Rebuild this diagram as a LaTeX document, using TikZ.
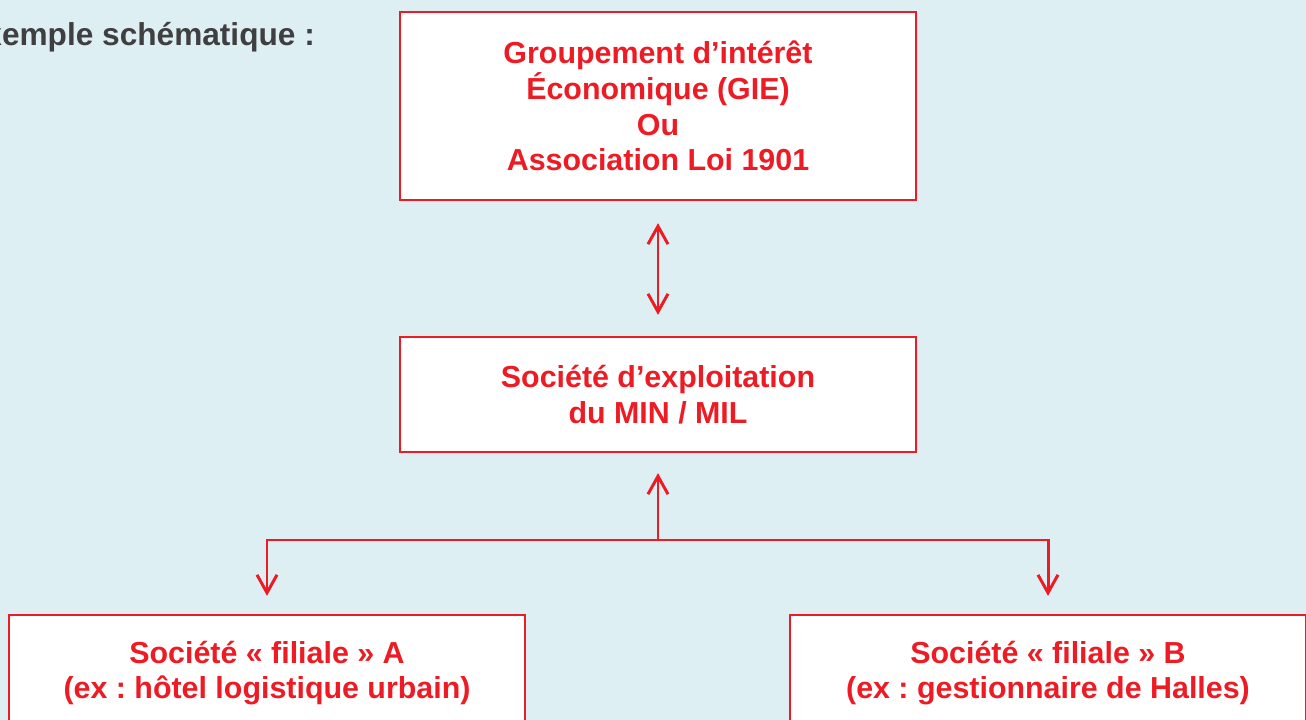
\documentclass[tikz,border=0pt]{standalone}
\usepackage{fontspec}
\setmainfont{Liberation Sans}
\usepackage{xcolor}
\usetikzlibrary{arrows.meta}

\definecolor{rouge}{HTML}{ED1C24}
\definecolor{fond}{HTML}{DDEFF3}
\definecolor{titre}{HTML}{3F3F41}

\tikzset{
    entite/.style={draw=rouge, line width=1.3pt, fill=white, text=rouge, align=center,
        font=\bfseries\fontsize{17.3}{20.4}\selectfont, minimum width=10.32cm, inner sep=0pt},
    lien/.style={draw=rouge, line width=1.7pt,
        >={Straight Barb[length=3.6mm, width=4mm, line width=1.7pt]}}
}

\begin{document}
\frenchspacing
\begin{tikzpicture}[x=0.02cm, y=-0.02cm]
    % Frame and background
    \useasboundingbox (0,0) rectangle (1306,720);
    \fill[fond] (0,0) rectangle (1306,720);
    \clip (0,0) rectangle (1306,720);

    % Title (cut at the left edge)
    \node[anchor=base west, inner sep=0pt, text=titre, font=\bfseries\fontsize{18}{21}\selectfont] (titre) at (-37,45) {Exemple schématique :};

    % Boxes
    \node[entite, minimum height=3.76cm] (gie) at (658,106)
        {Groupement d’intérêt\\Économique (GIE)\\Ou\\Association Loi 1901};
    \node[entite, minimum height=2.3cm] (expl) at (658,394.5)
        {Société d’exploitation\\du MIN / MIL};
    \node[entite, minimum height=2.32cm] (filA) at (267,673)
        {Société « filiale » A\\(ex : hôtel logistique urbain)};
    \node[entite, minimum height=2.32cm] (filB) at (1048,673)
        {Société « filiale » B\\(ex : gestionnaire de Halles)};

    % Links
    \coordinate (branche) at (658,540);
    \draw[lien, <->, shorten <=0.44cm, shorten >=0.42cm] (gie.south) -- (expl.north);
    \draw[lien, ->, shorten >=0.4cm] (branche) -- (expl.south);
    \draw[lien, ->, shorten >=0.36cm] (branche) -| (filA.north);
    \draw[lien, ->, shorten >=0.36cm] (branche) -| (filB.north);
\end{tikzpicture}
\end{document}
